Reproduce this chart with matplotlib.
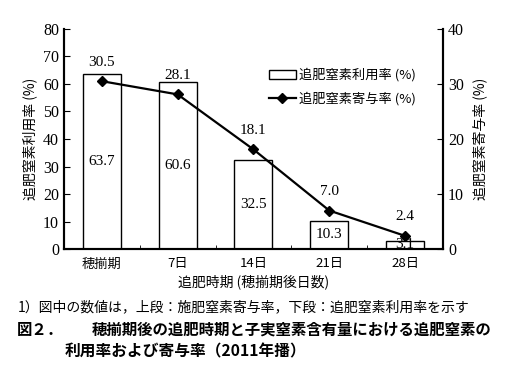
import matplotlib
matplotlib.use('Agg')
import matplotlib.pyplot as plt
import numpy as np

# データ
categories = ['穂揃期', '7日', '14日', '21日', '28日']
riyou = [63.7, 60.6, 32.5, 10.3, 3.1]     # 追肥窒素利用率 (%)
kiyo = [30.5, 28.1, 18.1, 7.0, 2.4]       # 追肥窒素寄与率 (%)

fam = ['Liberation Serif', 'Noto Sans CJK JP']
plt.rcParams['font.family'] = fam
plt.rcParams['font.size'] = 10

fig = plt.figure(figsize=(5.11, 3.85), dpi=100)
ax = fig.add_axes([0.125, 0.353, 0.742, 0.572])
ax2 = ax.twinx()

x = np.arange(len(categories))
bars = ax.bar(x, riyou, width=0.5, facecolor='white', edgecolor='black',
              linewidth=1.0, label='追肥窒素利用率 (%)', zorder=2)
ln, = ax2.plot(x, kiyo, color='black', linewidth=1.6, marker='D',
               markersize=5, label='追肥窒素寄与率 (%)', zorder=3)

ax.set_xlim(-0.5, 4.5)
ax.set_ylim(0, 80)
ax2.set_ylim(0, 40)
ax.set_yticks(range(0, 81, 10))
ax2.set_yticks(range(0, 41, 10))
ax.set_xticks(x)
ax.set_xticklabels(categories, family='Noto Sans CJK JP', fontsize=9.5)
ax.set_xticks(np.arange(-0.5, 4.6, 1.0), minor=True)
ax.tick_params(axis='x', which='major', length=0, pad=6)
ax.tick_params(axis='x', which='minor', direction='in', length=3)
ax.tick_params(axis='y', direction='in', length=4, labelsize=11.5)
ax2.tick_params(axis='y', direction='in', length=4, labelsize=11.5)

for a in (ax, ax2):
    a.spines['top'].set_visible(False)
    for s in ('left', 'right', 'bottom'):
        a.spines[s].set_linewidth(1.5)

ax.set_ylabel('追肥窒素利用率 (%)', family='Noto Sans CJK JP', fontsize=10, labelpad=4)
ax2.set_ylabel('追肥窒素寄与率 (%)', family='Noto Sans CJK JP', fontsize=10,
               rotation=90, labelpad=6)
ax.set_xlabel('追肥時期 (穂揃期後日数)', family='Noto Sans CJK JP', fontsize=10, labelpad=3)

# 下段：利用率（棒の中）
for xi, v in zip(x, riyou):
    ax.text(xi, v / 2, f'{v:.1f}', ha='center', va='center', fontsize=11, zorder=4)
# 上段：寄与率
for xi, v in zip(x, kiyo):
    ax2.annotate(f'{v:.1f}', (xi, v), xytext=(0, 9), textcoords='offset points',
                 ha='center', va='bottom', fontsize=11)

leg = ax.legend([bars, ln], ['追肥窒素利用率 (%)', '追肥窒素寄与率 (%)'],
                loc='upper left', bbox_to_anchor=(0.51, 0.875), frameon=False,
                prop={'family': 'Noto Sans CJK JP', 'size': 9.5},
                handlelength=2.0, handletextpad=0.3, labelspacing=0.75)

fig.text(0.035, 0.203, '1）図中の数値は，上段：施肥窒素寄与率，下段：追肥窒素利用率を示す',
         family='Noto Sans CJK JP', fontsize=10, va='center')
fig.text(0.033, 0.143, '図２．',
         family='Noto Sans CJK JP', fontsize=11.1, fontweight='bold', va='center')
fig.text(0.180, 0.143, '穂揃期後の追肥時期と子実窒素含有量における追肥窒素の',
         family='Noto Sans CJK JP', fontsize=11.1, fontweight='bold', va='center')
fig.text(0.127, 0.086, '利用率および寄与率（2011年播）',
         family='Noto Sans CJK JP', fontsize=11.3, fontweight='bold', va='center')

fig.savefig('out.png', dpi=100)
